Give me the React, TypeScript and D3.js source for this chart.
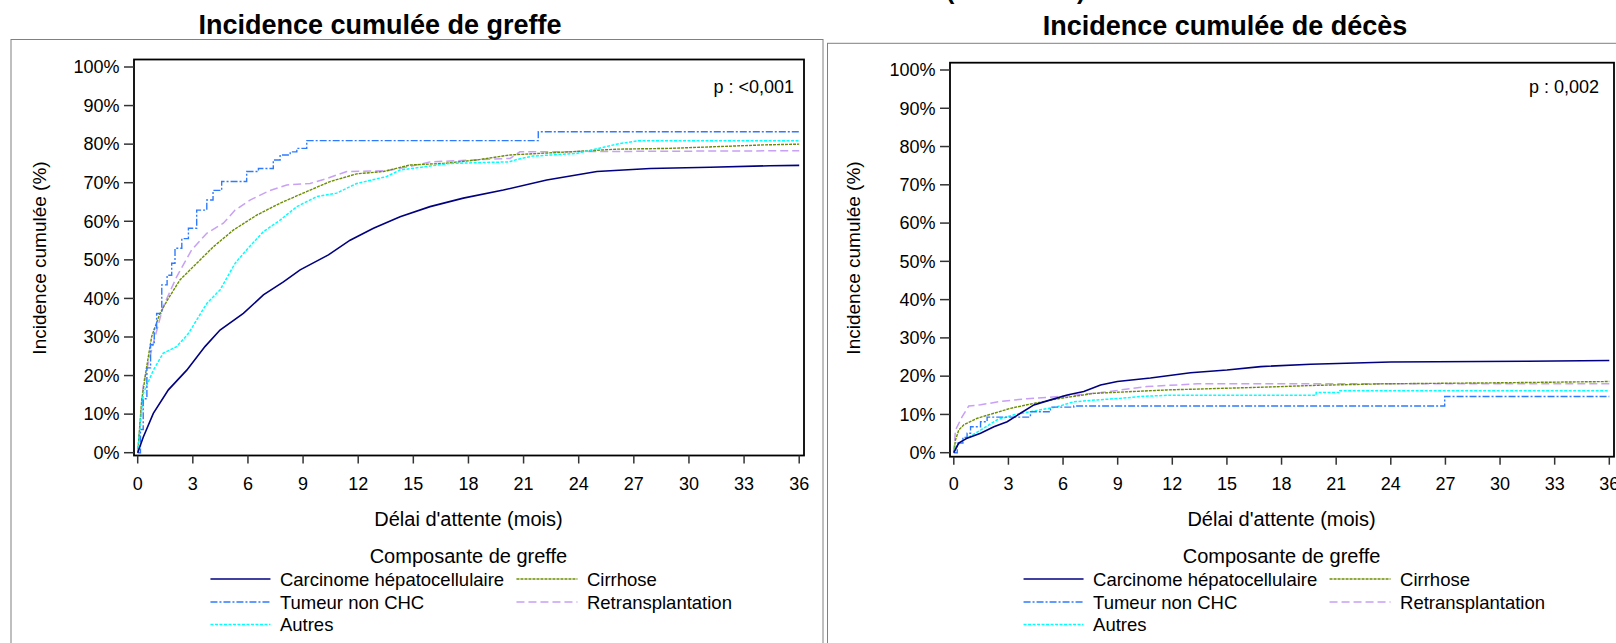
import React from "react";
import * as d3 from "d3";

const FONT = "'Liberation Sans', Arial, sans-serif";

const MONTH_TICKS = [0, 3, 6, 9, 12, 15, 18, 21, 24, 27, 30, 33, 36];
const PCT_TICKS = [0, 10, 20, 30, 40, 50, 60, 70, 80, 90, 100];

const LEGEND_TITLE = "Composante de greffe";
const X_LABEL = "Délai d'attente (mois)";
const Y_LABEL = "Incidence cumulée (%)";

type Pt = [number, number];

// Incidence cumulée de greffe : [mois, %]
const greffeCHC: Pt[] = [
  [0, 0], [0.3, 4], [0.85, 10.2], [1.67, 16.3], [2.67, 21.4], [3.66, 27.5], [4.48, 31.8],
  [5.75, 36.1], [6.84, 40.9], [7.93, 44.3], [8.84, 47.4], [10.38, 51.3], [11.56, 55.1],
  [12.83, 58.2], [14.28, 61.2], [15.91, 63.8], [17.72, 66.0], [19.9, 68.1], [22.26, 70.7],
  [24.99, 72.9], [27.89, 73.7], [31.15, 74.0], [34.4, 74.4], [36, 74.5],
];
const greffeTumeur: Pt[] = [
  [0, 0], [0.15, 6], [0.3, 14], [0.5, 22], [0.7, 28], [0.9, 32], [1.03, 36.1], [1.31, 43.5],
  [1.6, 46], [1.85, 49.1], [2.03, 53.0], [2.4, 55.5], [2.76, 58.2], [3.21, 62.9], [3.76, 65.5],
  [4.1, 68], [4.57, 70.3], [5.93, 72.9], [6.57, 73.7], [7.38, 75.9], [7.75, 77.2], [8.3, 78],
  [8.66, 78.9], [9.2, 80.9], [21.8, 83.2], [36, 83.2],
];
const greffeAutres: Pt[] = [
  [0, 0], [0.31, 15.4], [0.85, 21.4], [1.39, 25.8], [2.12, 27.5], [2.76, 30.9], [3.76, 38.7],
  [4.48, 42.2], [5.3, 49.1], [5.93, 52.6], [6.84, 57.3], [7.75, 60.3], [8.66, 63.8],
  [9.75, 66.4], [10.83, 67.3], [11.92, 69.8], [13.55, 71.6], [14.28, 73.3], [17.0, 75.0],
  [20.2, 75.4], [20.7, 76.1], [21.5, 76.9], [23.9, 77.6], [26.07, 80.0], [27.25, 80.9], [36, 80.9],
];
const greffeCirrhose: Pt[] = [
  [0, 0], [0.22, 13.7], [0.49, 22.3], [0.76, 30.1], [1.21, 36.1], [1.67, 40.0], [2.3, 44.8],
  [3.21, 49.1], [4.12, 53.4], [5.2, 57.7], [6.48, 61.6], [7.75, 64.7], [9.0, 67.3],
  [10.47, 70.3], [11.92, 72.3], [13.37, 72.9], [14.82, 74.6], [16.64, 75.0], [18.45, 75.9],
  [20.27, 77.2], [23.5, 78.0], [26.07, 78.7], [28.97, 78.9], [34.05, 79.8], [36, 80.0],
];
const greffeRetransplant: Pt[] = [
  [0, 0], [0.31, 18], [0.85, 28.4], [1.39, 37.9], [2.12, 45.6], [2.94, 52.6], [3.76, 56.9],
  [4.66, 59.5], [5.3, 62.9], [6.11, 65.5], [7.2, 68.0], [8.11, 69.4], [9.38, 69.8],
  [10.29, 71.1], [11.38, 72.9], [13.55, 73.1], [14.82, 74.2], [15.91, 75.4], [20.27, 76.3],
  [20.8, 78.0], [36, 78.3],
];

// Incidence cumulée de décès : [mois, %]
const decesCHC: Pt[] = [
  [0, 0], [0.27, 2.5], [0.73, 3.8], [1.47, 5.1], [2.2, 6.8], [2.93, 8.1], [3.66, 10.3],
  [4.4, 12.5], [5.31, 13.8], [6.23, 15.1], [7.14, 16.0], [8.06, 17.7], [8.98, 18.6],
  [10.8, 19.5], [13.0, 20.9], [15.0, 21.6], [16.85, 22.5], [19.6, 23.1], [24.0, 23.7],
  [31.5, 23.9], [36, 24.1],
];
const decesTumeur: Pt[] = [
  [0, 0], [0.19, 2.5], [0.5, 4], [0.73, 5.1], [0.92, 6.8], [1.47, 8.1], [1.83, 9.3],
  [4.21, 10.7], [5.31, 11.9], [6.59, 12.2], [26.96, 14.7], [36, 14.7],
];
const decesAutres: Pt[] = [
  [0, 0], [0.09, 1.6], [0.55, 3.3], [1.47, 5.9], [2.38, 8.6], [3.3, 9.9], [4.76, 11.2],
  [5.68, 12.0], [6.59, 13.3], [7.88, 13.8], [9.16, 14.2], [10.26, 14.7], [11.73, 15.0],
  [19.9, 15.0], [19.9, 15.7], [21.2, 15.7], [21.2, 16.2], [36, 16.2],
];
const decesCirrhose: Pt[] = [
  [0, 0], [0.09, 3.3], [0.27, 5.9], [0.55, 7.3], [1.29, 9.0], [2.2, 10.3], [3.12, 11.6],
  [4.4, 12.9], [5.86, 14.2], [7.69, 15.5], [9.89, 16.0], [11.7, 16.4], [16.85, 17.1],
  [19.97, 17.6], [23.6, 18.0], [30.6, 18.3], [36, 18.6],
];
const decesRetransplant: Pt[] = [
  [0, 0], [0.09, 5.9], [0.46, 9.4], [0.82, 12.2], [1.47, 12.5], [2.57, 13.4], [4.03, 14.1],
  [5.86, 14.7], [8.07, 15.7], [10.6, 17.3], [13.4, 18.0], [36, 18.0],
];

// line styles, keyed by group
const STYLES: Record<string, { color: string; dash: string; width: number; step: boolean }> = {
  "Carcinome hépatocellulaire": { color: "#000080", dash: "none", width: 1.6, step: false },
  "Tumeur non CHC": { color: "#2f7bff", dash: "7 2 2 2", width: 1.4, step: true },
  "Autres": { color: "#00ffff", dash: "3 1.5", width: 1.5, step: false },
  "Cirrhose": { color: "#6b8e00", dash: "3 1", width: 1.4, step: false },
  "Retransplantation": { color: "#c8a0f5", dash: "8 4", width: 1.5, step: false },
};

// legend layout: [name, column, row]
const LEGEND: [string, number, number][] = [
  ["Carcinome hépatocellulaire", 0, 0],
  ["Cirrhose", 1, 0],
  ["Tumeur non CHC", 0, 1],
  ["Retransplantation", 1, 1],
  ["Autres", 0, 2],
];

interface PanelCfg {
  box: [number, number, number];
  title: [number, number];
  frame: [number, number, number, number];
  xRange: [number, number];
  yRange: [number, number];
  p: [number, number];
  yLabelX: number;
}

const LEFT_CFG: PanelCfg = {
  box: [11, 39.5, 812],
  title: [380, 34],
  frame: [134, 804, 59.5, 455.5],
  xRange: [137.7, 799.2],
  yRange: [452.7, 67],
  p: [794, 92.5],
  yLabelX: 39,
};

const RIGHT_CFG: PanelCfg = {
  box: [827.5, 43.3, 900],
  title: [1225, 35],
  frame: [950, 1614, 62.7, 456.7],
  xRange: [953.8, 1609.3],
  yRange: [452.7, 70],
  p: [1599, 92.7],
  yLabelX: 853,
};

interface PanelProps {
  cfg: PanelCfg;
  title: string;
  pLabel: string;
  series: Record<string, Pt[]>;
}

function Panel({ cfg, title, pLabel, series }: PanelProps) {
  const x = d3.scaleLinear().domain([0, 36]).range(cfg.xRange);
  const y = d3.scaleLinear().domain([0, 100]).range(cfg.yRange);
  const [fx0, fx1, fy0, fy1] = cfg.frame;
  const mid = (cfg.xRange[0] + cfg.xRange[1]) / 2;
  const drawOrder = ["Retransplantation", "Cirrhose", "Autres", "Tumeur non CHC", "Carcinome hépatocellulaire"];

  const rowY = [579, 602, 624.5];
  const colLine = [[mid - 258, mid - 198], [mid + 48, mid + 109]];

  return (
    <g fontFamily={FONT}>
      <rect x={cfg.box[0]} y={cfg.box[1]} width={cfg.box[2]} height={700} fill="none" stroke="#808080" strokeWidth={1} />
      <text x={cfg.title[0]} y={cfg.title[1]} textAnchor="middle" fontSize={27} fontWeight="bold">{title}</text>

      {drawOrder.map((name) => {
        const st = STYLES[name];
        const line = d3.line<Pt>()
          .x((d) => x(d[0]))
          .y((d) => y(d[1]))
          .curve(st.step ? d3.curveStepAfter : d3.curveLinear);
        return (
          <path key={name} d={line(series[name]) || ""} fill="none" stroke={st.color}
            strokeWidth={st.width} strokeDasharray={st.dash} />
        );
      })}

      <rect x={fx0} y={fy0} width={fx1 - fx0} height={fy1 - fy0} fill="none" stroke="#000" strokeWidth={1.8} />

      {PCT_TICKS.map((t) => (
        <g key={t}>
          <line x1={fx0 - 10} x2={fx0} y1={y(t)} y2={y(t)} stroke="#333" strokeWidth={1.5} />
          <text x={fx0 - 14.5} y={y(t) + 6.3} textAnchor="end" fontSize={18}>{t}%</text>
        </g>
      ))}
      {MONTH_TICKS.map((t) => (
        <g key={t}>
          <line x1={x(t)} x2={x(t)} y1={fy1} y2={fy1 + 8} stroke="#333" strokeWidth={1.5} />
          <text x={x(t)} y={489.8} textAnchor="middle" fontSize={18}>{t}</text>
        </g>
      ))}

      <text x={cfg.p[0]} y={cfg.p[1]} textAnchor="end" fontSize={18}>{pLabel}</text>

      <text x={mid} y={526} textAnchor="middle" fontSize={20}>{X_LABEL}</text>
      <text transform={`translate(${cfg.yLabelX},258) rotate(-90)`} textAnchor="middle" fontSize={19} dy="0.35em">{Y_LABEL}</text>

      <text x={mid} y={563} textAnchor="middle" fontSize={20}>{LEGEND_TITLE}</text>
      {LEGEND.map(([name, col, row]) => {
        const st = STYLES[name];
        const [lx0, lx1] = colLine[col];
        return (
          <g key={name}>
            <line x1={lx0} x2={lx1} y1={rowY[row]} y2={rowY[row]} stroke={st.color}
              strokeWidth={st.width} strokeDasharray={st.dash} />
            <text x={lx1 + 9.5} y={rowY[row] + 6.5} fontSize={18.5}>{name}</text>
          </g>
        );
      })}
    </g>
  );
}

export default function App() {
  const greffe = {
    "Carcinome hépatocellulaire": greffeCHC,
    "Tumeur non CHC": greffeTumeur,
    "Autres": greffeAutres,
    "Cirrhose": greffeCirrhose,
    "Retransplantation": greffeRetransplant,
  };
  const deces = {
    "Carcinome hépatocellulaire": decesCHC,
    "Tumeur non CHC": decesTumeur,
    "Autres": decesAutres,
    "Cirrhose": decesCirrhose,
    "Retransplantation": decesRetransplant,
  };
  return (
    <svg width={1616} height={643} style={{ position: "absolute", left: 0, top: 0, background: "#fff" }}>
      <rect x={0} y={0} width={1616} height={643} fill="#fff" />
      {/* header line above, cut off by the page edge */}
      <text x={946} y={-1} fontFamily={FONT} fontSize={25} fontWeight="bold">(</text>
      <text x={1077} y={-1} fontFamily={FONT} fontSize={25} fontWeight="bold">)</text>
      <Panel cfg={LEFT_CFG} title="Incidence cumulée de greffe" pLabel="p : <0,001" series={greffe} />
      <Panel cfg={RIGHT_CFG} title="Incidence cumulée de décès" pLabel="p : 0,002" series={deces} />
    </svg>
  );
}
